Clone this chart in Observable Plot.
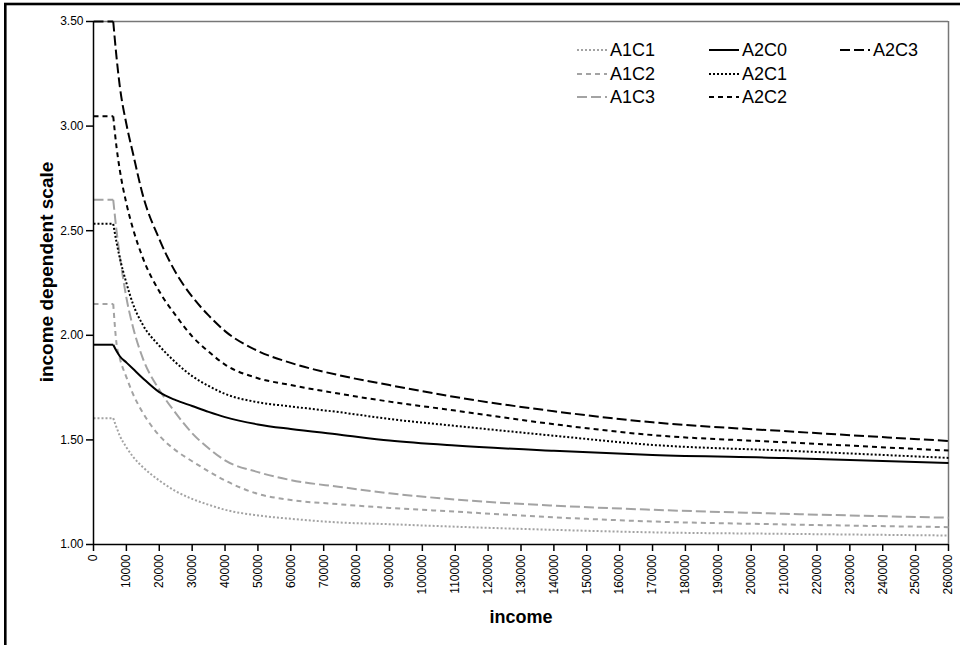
<!DOCTYPE html>
<html><head><meta charset="utf-8">
<script src="https://cdn.jsdelivr.net/npm/d3@7"></script>
<script src="https://cdn.jsdelivr.net/npm/@observablehq/plot@0.6"></script>
<style>
body{margin:0;background:#fff;}
#chart{position:relative;width:960px;height:645px;overflow:hidden;}
</style>
</head><body><div id="chart"></div>
<script>
// income sample points (x); index 1 is the end of the flat part
const income = [0, 6000, 7000, 8000, 10000, 12000, 15000, 20000, 25000, 30000, 35000, 40000, 50000, 60000, 75000, 90000, 110000, 140000, 170000, 210000, 260000];
// series values
const A1C1 = [1.604, 1.604, 1.56, 1.52, 1.465, 1.42, 1.37, 1.306, 1.255, 1.218, 1.19, 1.166, 1.139, 1.123, 1.105, 1.097, 1.085, 1.07, 1.058, 1.051, 1.043];
const A1C2 = [2.15, 2.15, 1.96, 1.89, 1.80, 1.72, 1.63, 1.521, 1.45, 1.398, 1.35, 1.306, 1.242, 1.213, 1.192, 1.175, 1.157, 1.13, 1.11, 1.096, 1.083];
const A1C3 = [2.648, 2.648, 2.50, 2.38, 2.18, 2.04, 1.89, 1.74, 1.628, 1.532, 1.46, 1.402, 1.346, 1.308, 1.275, 1.245, 1.215, 1.186, 1.166, 1.147, 1.128];
const A2C0 = [1.955, 1.955, 1.925, 1.90, 1.870, 1.84, 1.795, 1.728, 1.69, 1.662, 1.634, 1.609, 1.574, 1.552, 1.525, 1.497, 1.473, 1.448, 1.428, 1.414, 1.39];
const A2C1 = [2.533, 2.533, 2.445, 2.37, 2.25, 2.15, 2.05, 1.95, 1.87, 1.805, 1.758, 1.72, 1.68, 1.66, 1.632, 1.60, 1.567, 1.52, 1.476, 1.449, 1.414];
const A2C2 = [3.047, 3.047, 2.90, 2.79, 2.63, 2.51, 2.37, 2.21, 2.095, 1.995, 1.922, 1.86, 1.795, 1.762, 1.72, 1.683, 1.64, 1.575, 1.523, 1.489, 1.449];
const A2C3 = [3.50, 3.50, 3.33, 3.19, 3.01, 2.87, 2.67, 2.46, 2.30, 2.185, 2.095, 2.02, 1.925, 1.868, 1.808, 1.762, 1.705, 1.637, 1.584, 1.542, 1.495];

const seriesNames = ["A1C1", "A1C2", "A1C3", "A2C0", "A2C1", "A2C2", "A2C3"];
const seriesValues = [A1C1, A1C2, A1C3, A2C0, A2C1, A2C2, A2C3];

const xTicks = [0, 10000, 20000, 30000, 40000, 50000, 60000, 70000, 80000, 90000, 100000, 110000, 120000, 130000, 140000, 150000, 160000, 170000, 180000, 190000, 200000, 210000, 220000, 230000, 240000, 250000, 260000];
const yTicks = [1.00, 1.50, 2.00, 2.50, 3.00, 3.50];

const styles = {
  A1C1: {stroke: "#a3a3a3", dash: "2,2"},
  A1C2: {stroke: "#a3a3a3", dash: "5,4"},
  A1C3: {stroke: "#a3a3a3", dash: "10,4"},
  A2C0: {stroke: "#000", dash: null},
  A2C1: {stroke: "#000", dash: "2,2"},
  A2C2: {stroke: "#000", dash: "5,4"},
  A2C3: {stroke: "#000", dash: "10,4"}
};

const rows = [];
seriesNames.forEach((s, i) => income.forEach((x, j) => rows.push({series: s, idx: j, income: x, value: seriesValues[i][j]})));

const lineMarks = [];
seriesNames.forEach(s => {
  const opts = {x: "income", y: "value", stroke: styles[s].stroke, strokeWidth: 2,
    strokeDasharray: styles[s].dash || undefined, strokeLinecap: "butt", strokeLinejoin: "round"};
  // flat part (straight)
  lineMarks.push(Plot.line(rows.filter(d => d.series === s && d.idx <= 1), {...opts, curve: "linear"}));
  // decreasing part (smooth)
  lineMarks.push(Plot.line(rows.filter(d => d.series === s && d.idx >= 1), {...opts, curve: "monotone-x"}));
});

const font = "'Liberation Sans', Arial, sans-serif";

const chart = Plot.plot({
  width: 960, height: 645,
  marginLeft: 93, marginTop: 21, marginRight: 12, marginBottom: 101,
  style: {fontFamily: font, background: "transparent", color: "#000"},
  x: {domain: [0, 260000]},
  y: {domain: [1, 3.5]},
  marks: [
    Plot.ruleY([3.5], {stroke: "#777", strokeWidth: 1.5}),
    Plot.ruleX([260000], {stroke: "#777", strokeWidth: 1.5}),
    ...lineMarks,
    Plot.axisX({ticks: xTicks, tickFormat: d => String(d), tickRotate: -90, tickSize: 7, tickPadding: 3, fontSize: 12, label: null, stroke: "#000", strokeWidth: 1.5}),
    Plot.axisY({ticks: yTicks, tickFormat: d => d.toFixed(2), tickSize: 7, tickPadding: 3, fontSize: 12, label: null, stroke: "#000", strokeWidth: 1.5}),
    Plot.ruleX([0], {stroke: "#000", strokeWidth: 1.5}),
    Plot.ruleY([1], {stroke: "#000", strokeWidth: 1.5}),
    Plot.text(["income"], {frameAnchor: "bottom", dy: 78, fontSize: 18, fontWeight: "bold", fill: "#000"}),
    Plot.text(["income dependent scale"], {frameAnchor: "left", dx: -47, dy: -11, rotate: -90, textAnchor: "middle", fontSize: 19, fontWeight: "bold", fill: "#000"})
  ]
});

const svg = d3.select(chart);
// outer frame
svg.append("rect").attr("x", 5.3).attr("y", 4).attr("width", 980).attr("height", 660)
  .attr("fill", "none").attr("stroke", "#000").attr("stroke-width", 2.6);

// legend
const legendItems = [
  {s: "A1C1", x: 577, y: 50}, {s: "A1C2", x: 577, y: 74}, {s: "A1C3", x: 577, y: 97},
  {s: "A2C0", x: 709, y: 50}, {s: "A2C1", x: 709, y: 74}, {s: "A2C2", x: 709, y: 97},
  {s: "A2C3", x: 840, y: 50}
];
const lg = svg.append("g").attr("text-anchor", "start");
legendItems.forEach(it => {
  const st = styles[it.s];
  lg.append("line").attr("x1", it.x).attr("x2", it.x + 30).attr("y1", it.y).attr("y2", it.y)
    .attr("stroke", st.stroke).attr("stroke-width", 2).attr("stroke-dasharray", st.dash);
  lg.append("text").attr("x", it.x + 33).attr("y", it.y).attr("dy", "0.36em").attr("text-anchor", "start")
    .attr("font-family", font).attr("font-size", 18).attr("fill", "#000").text(it.s);
});

document.getElementById("chart").appendChild(chart);
</script>
</body></html>
